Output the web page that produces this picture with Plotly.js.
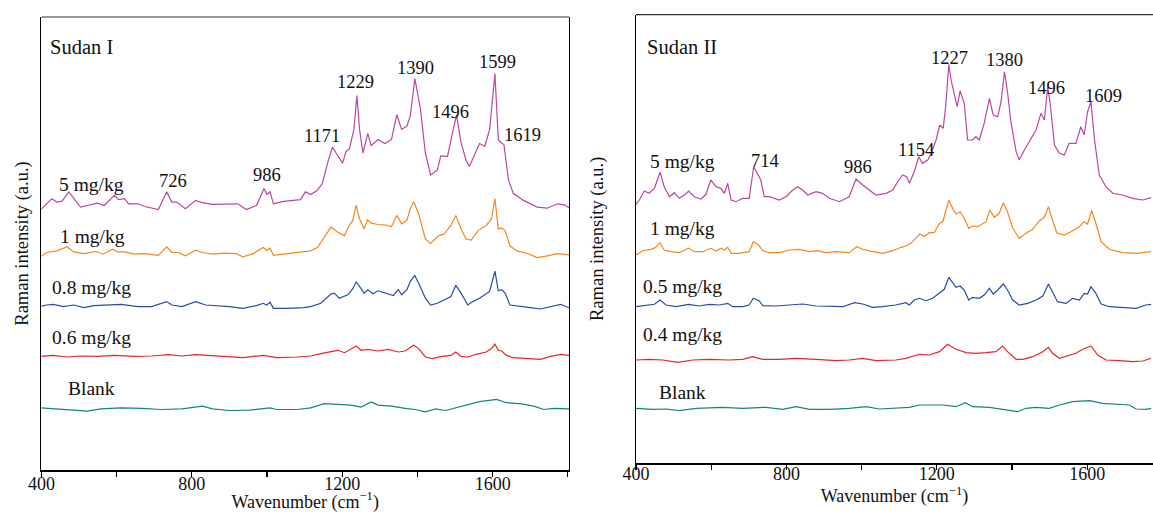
<!DOCTYPE html>
<html>
<head>
<meta charset="utf-8">
<script src="https://cdn.plot.ly/plotly-3.0.1.min.js"></script>
<style>html,body{margin:0;padding:0;background:#fff;}#chart{width:1153px;height:513px;}</style>
</head>
<body>
<div id="chart"></div>
<script>
// ---------- Sudan I (left panel) ----------
const s1_5_wn = [396,428,441,455,473,486,504,522,549,567,594,605,621,632,657,675,711,733,747,760,783,810,828,855,886,922,945,972,992,1000,1008,1017,1044,1089,1102,1116,1134,1147,1161,1174,1188,1201,1210,1219,1231,1239,1246,1255,1268,1277,1295,1313,1331,1345,1358,1372,1381,1393,1408,1421,1435,1453,1462,1480,1493,1504,1516,1529,1538,1556,1565,1579,1592,1606,1615,1621,1630,1642,1655,1682,1718,1745,1772,1790,1803];
const s1_5_int = [259.5,271.3,267.9,268.9,278.1,271.3,262.9,264.5,266.9,264.5,274.7,270.3,271.3,266.2,266.2,263.5,260.5,278.1,267.9,267.9,261.2,269.6,267.3,265.6,266.2,266.2,260.5,264.5,281.4,275.7,278.1,266.2,268.6,270.3,278.1,275.4,279.8,286.5,306.8,323.0,314.2,306.8,318.6,321.0,340.6,374.4,340.6,317.0,336.6,324.4,330.5,326.4,330.5,355.2,340.6,344.0,354.1,391.3,360.9,317.0,295.0,300.0,314.2,313.6,337.2,354.8,327.1,310.2,303.4,318.6,326.4,323.7,340.6,396.4,330.5,327.8,325.4,289.9,276.4,269.6,262.9,261.8,266.2,265.2,262.2];

const s1_1_wn = [396,414,441,468,486,513,545,563,590,603,621,648,675,711,733,747,765,783,810,828,855,886,918,936,963,990,999,1008,1017,1053,1098,1116,1134,1152,1170,1188,1206,1216,1228,1237,1246,1258,1267,1277,1295,1313,1331,1345,1358,1372,1381,1390,1403,1421,1435,1457,1471,1489,1502,1516,1529,1543,1561,1583,1597,1606,1615,1624,1633,1646,1664,1691,1718,1745,1772,1803];
const s1_1_int = [213.1,217.5,219.1,223.2,218.1,216.4,218.5,215.8,220.8,218.1,218.1,215.8,216.4,214.7,223.2,217.5,217.5,214.1,219.8,217.5,215.8,216.8,216.4,213.1,216.4,222.5,219.8,221.8,214.7,216.4,218.1,219.1,222.5,232.7,242.8,237.7,234.4,242.8,249.6,264.8,251.3,241.1,250.2,246.9,245.5,245.2,243.5,254.6,246.2,249.6,261.4,268.2,256.3,231.0,226.6,234.4,236.0,244.5,254.6,241.1,231.0,230.0,239.4,244.5,251.3,271.5,241.1,242.1,239.4,224.2,219.1,216.8,212.4,214.1,216.4,215.1];

const s1_08_wn = [396,414,432,459,486,513,540,576,612,657,693,733,747,774,810,837,864,900,936,972,990,999,1008,1017,1053,1098,1116,1143,1170,1179,1192,1215,1228,1237,1246,1258,1268,1282,1295,1313,1336,1349,1358,1372,1381,1393,1403,1421,1435,1453,1471,1489,1502,1516,1534,1547,1565,1592,1606,1615,1624,1633,1646,1673,1700,1727,1754,1781,1803];
const s1_08_int = [163.4,165.0,165.7,163.4,165.0,162.3,164.4,165.0,165.7,163.4,163.4,168.4,165.0,163.4,168.4,165.0,164.4,163.4,161.7,164.4,166.7,165.0,167.8,161.7,161.7,162.3,163.4,166.7,175.9,176.9,171.8,175.2,181.3,188.0,183.6,176.9,180.3,176.2,179.2,176.9,174.5,180.3,175.2,180.3,188.7,194.5,187.0,171.8,165.0,166.7,170.1,173.5,184.7,176.9,165.0,168.4,171.8,178.6,198.9,179.2,180.3,176.9,165.0,163.4,162.3,161.0,163.4,165.7,162.3];

const s1_06_wn = [396,432,468,504,549,594,648,693,738,774,810,864,900,936,990,1026,1080,1116,1143,1170,1188,1206,1223,1237,1250,1268,1295,1322,1349,1367,1390,1403,1421,1439,1466,1489,1502,1516,1534,1556,1583,1597,1606,1615,1624,1637,1655,1691,1727,1754,1781,1803];
const s1_06_int = [113.6,114.6,113.0,114.0,113.6,114.6,113.6,114.0,115.3,114.0,115.3,114.0,113.6,112.3,114.6,112.3,113.0,114.0,116.3,118.7,119.7,117.3,120.7,124.1,119.7,120.7,119.0,120.7,118.0,119.0,124.8,121.4,113.0,111.3,113.6,114.6,118.0,113.6,113.0,115.7,118.0,121.4,125.8,119.7,119.0,114.6,112.3,111.3,110.6,113.6,115.7,114.6];

const s1_blank_wn = [396,432,477,522,558,612,666,720,774,828,855,900,954,1008,1026,1080,1116,1152,1188,1223,1250,1277,1295,1331,1367,1394,1421,1448,1475,1502,1529,1565,1610,1637,1673,1709,1736,1763,1803];
const s1_blank_int = [62.2,61.2,60.5,58.9,61.2,62.2,61.6,60.5,61.2,63.9,61.2,59.5,59.9,62.2,60.5,60.5,62.2,66.3,65.6,64.9,62.9,68.0,64.9,63.9,61.6,60.5,58.2,61.2,59.5,62.2,64.9,68.3,70.7,67.3,66.3,63.9,60.5,61.6,61.2];

// ---------- Sudan II (right panel) ----------
const s2_5_wn = [400,409,422,435,449,464,475,489,502,515,529,540,555,573,586,599,613,626,635,644,653,666,684,701,713,724,732,741,755,781,799,817,830,843,857,879,896,914,941,967,985,1003,1021,1038,1065,1083,1096,1109,1120,1127,1140,1152,1162,1176,1185,1198,1208,1217,1224,1232,1238,1247,1254,1262,1273,1282,1295,1304,1313,1326,1340,1350,1362,1371,1380,1388,1397,1411,1419,1433,1451,1464,1477,1486,1495,1502,1513,1526,1539,1552,1570,1583,1592,1601,1610,1619,1632,1650,1668,1694,1721,1748,1770];
const s2_5_int = [258.7,263.0,272.0,269.7,274.7,290.7,276.3,266.3,270.3,264.7,268.0,272.0,266.3,264.0,268.7,283.0,276.3,274.7,269.7,279.7,263.0,261.3,264.7,264.7,296.3,288.0,283.0,266.3,266.3,263.0,266.3,273.0,276.3,273.0,268.0,271.3,269.7,264.7,261.3,266.3,284.0,278.0,273.0,268.0,269.7,273.0,281.3,288.0,286.3,279.7,291.3,306.3,299.7,303.0,309.7,323.0,338.0,334.7,358.0,398.7,383.0,368.0,356.3,372.0,359.7,323.0,323.0,326.3,323.0,339.7,364.7,348.0,346.3,361.3,391.3,371.3,341.3,311.3,303.0,313.0,324.7,333.0,349.7,343.0,376.3,358.0,318.0,309.7,308.0,319.7,319.7,336.3,328.0,351.3,361.3,324.7,288.0,276.3,269.7,268.0,264.7,263.0,265.3];

const s2_1_wn = [400,418,440,453,464,475,493,515,540,555,577,599,613,626,635,644,653,675,701,712,726,737,755,781,808,834,861,883,905,932,967,987,1003,1029,1056,1083,1105,1118,1131,1145,1155,1167,1180,1193,1207,1216,1224,1232,1242,1251,1262,1273,1285,1295,1309,1322,1331,1341,1353,1366,1377,1388,1402,1419,1437,1455,1473,1486,1497,1506,1519,1539,1557,1579,1592,1601,1612,1623,1637,1659,1694,1730,1756,1770];
const s2_1_int = [208.0,212.3,213.7,215.7,220.3,213.0,211.3,210.3,214.7,211.3,211.3,214.7,212.0,214.7,213.0,215.7,209.7,209.7,211.3,221.3,218.0,212.3,210.3,210.3,213.0,213.7,211.3,212.3,210.3,211.3,210.3,216.3,213.7,211.3,209.7,212.3,215.7,217.0,219.7,224.7,229.0,226.3,230.3,230.3,239.7,241.3,253.7,263.0,254.7,249.0,251.3,244.7,234.7,237.0,236.3,239.0,241.3,253.0,245.7,249.7,260.3,251.3,234.7,224.7,229.7,233.7,242.3,245.7,256.3,244.7,230.3,228.0,231.3,236.3,241.3,239.0,252.3,239.7,221.3,213.7,210.3,209.7,210.3,211.3];

const s2_05_wn = [400,427,449,464,480,506,540,568,595,622,644,657,684,701,712,728,737,772,808,843,879,914,950,981,1003,1029,1056,1091,1118,1127,1140,1154,1171,1189,1207,1220,1232,1242,1251,1262,1273,1285,1295,1313,1326,1340,1350,1362,1377,1388,1402,1419,1442,1464,1482,1497,1508,1521,1544,1561,1579,1592,1601,1610,1623,1637,1659,1694,1730,1756,1770];
const s2_05_int = [156.3,158.0,158.7,163.0,158.0,156.3,158.7,157.0,158.7,158.0,159.7,156.3,156.3,158.0,164.7,162.0,157.3,157.0,158.0,159.0,157.0,156.3,156.3,160.3,159.0,155.7,156.3,158.0,160.3,158.0,163.0,164.7,162.3,164.7,169.7,173.7,185.7,179.7,175.7,177.0,173.0,163.0,165.7,164.7,168.0,174.7,169.0,173.0,179.0,173.0,163.0,158.0,159.7,163.0,167.0,179.0,171.3,161.3,159.7,164.7,163.0,169.7,169.0,176.3,169.7,159.0,156.3,155.7,154.7,158.0,158.7];

const s2_04_wn = [400,435,471,511,551,595,648,684,710,737,781,826,879,932,967,1003,1038,1091,1118,1154,1180,1207,1229,1251,1278,1304,1331,1357,1375,1388,1411,1428,1455,1482,1497,1508,1526,1544,1570,1588,1610,1628,1650,1685,1721,1748,1770];
const s2_04_int = [103.0,103.7,103.0,100.7,103.0,103.7,103.0,103.7,106.3,103.7,103.7,104.7,103.7,102.3,103.0,104.7,102.3,103.0,104.7,108.7,108.0,111.3,118.7,113.7,110.3,109.7,110.3,111.3,117.0,111.3,103.7,103.7,106.3,111.3,115.7,109.7,104.7,107.0,109.7,113.7,117.0,108.0,103.0,102.3,101.3,102.0,104.7];

const s2_blank_wn = [400,444,480,515,560,630,684,746,790,826,861,914,967,1012,1047,1091,1127,1154,1180,1216,1251,1276,1295,1340,1375,1415,1437,1464,1499,1526,1561,1606,1641,1677,1712,1730,1756,1770];
const s2_blank_int = [54.7,53.7,54.0,52.3,54.7,55.7,54.7,55.7,53.7,56.3,53.7,53.7,54.7,56.3,54.0,55.3,55.7,58.0,58.0,58.0,56.3,60.3,56.3,55.7,53.7,51.3,54.7,55.7,54.7,58.0,61.3,62.3,59.7,59.0,58.0,54.0,53.7,54.7];

// ---------- labels ----------
const panelNames = ['Sudan I', 'Sudan II'];
const s1SeriesNames = ['5 mg/kg', '1 mg/kg', '0.8 mg/kg', '0.6 mg/kg', 'Blank'];
const s2SeriesNames = ['5 mg/kg', '1 mg/kg', '0.5 mg/kg', '0.4 mg/kg', 'Blank'];
const s1PeakLabels = ['726', '986', '1171', '1229', '1390', '1496', '1599', '1619'];
const s2PeakLabels = ['714', '986', '1154', '1227', '1380', '1496', '1609'];

const colors = ['#b8489f', '#f7861f', '#2b4aa8', '#ee2228', '#11857e'];
const FONT = '"Liberation Serif", "DejaVu Serif", serif';

const s1Data = [[s1_5_wn, s1_5_int], [s1_1_wn, s1_1_int], [s1_08_wn, s1_08_int], [s1_06_wn, s1_06_int], [s1_blank_wn, s1_blank_int]];
const s2Data = [[s2_5_wn, s2_5_int], [s2_1_wn, s2_1_int], [s2_05_wn, s2_05_int], [s2_04_wn, s2_04_int], [s2_blank_wn, s2_blank_int]];

const traces = [];
s1Data.forEach((d, i) => traces.push({x: d[0], y: d[1], type: 'scatter', mode: 'lines', name: 'Sudan I ' + s1SeriesNames[i], line: {color: colors[i], width: 1.2}, xaxis: 'x', yaxis: 'y', hoverinfo: 'x+name'}));
s2Data.forEach((d, i) => traces.push({x: d[0], y: d[1], type: 'scatter', mode: 'lines', name: 'Sudan II ' + s2SeriesNames[i], line: {color: colors[i], width: 1.2}, xaxis: 'x2', yaxis: 'y2', hoverinfo: 'x+name'}));

function ann(text, x, y, xr, yr, size, xanchor) {
  return {text: text, x: x, y: y, xref: xr, yref: yr, showarrow: false, xanchor: xanchor || 'center', yanchor: 'middle', font: {family: FONT, size: size, color: '#111'}};
}
const annotations = [
  ann(panelNames[0], 418, 423, 'x', 'y', 20.5, 'left'),
  ann(s1SeriesNames[0], 532, 285, 'x', 'y', 19.5),
  ann(s1SeriesNames[1], 535, 233.5, 'x', 'y', 19.5),
  ann(s1SeriesNames[2], 534, 183, 'x', 'y', 19.5),
  ann(s1SeriesNames[3], 534, 132.5, 'x', 'y', 19.5),
  ann(s1SeriesNames[4], 533, 82, 'x', 'y', 19.5),
  ann(s1PeakLabels[0], 749, 289, 'x', 'y', 18.5),
  ann(s1PeakLabels[1], 1000, 295, 'x', 'y', 18.5),
  ann(s1PeakLabels[2], 1146, 334, 'x', 'y', 18.5),
  ann(s1PeakLabels[3], 1236, 388, 'x', 'y', 18.5),
  ann(s1PeakLabels[4], 1396, 402, 'x', 'y', 18.5),
  ann(s1PeakLabels[5], 1487, 358, 'x', 'y', 18.5),
  ann(s1PeakLabels[6], 1612, 408, 'x', 'y', 18.5),
  ann(s1PeakLabels[7], 1678, 335, 'x', 'y', 18.5),
  ann(panelNames[1], 424, 416.4, 'x2', 'y2', 20.5, 'left'),
  ann(s2SeriesNames[0], 525, 301.5, 'x2', 'y2', 19.5),
  ann(s2SeriesNames[1], 525, 235, 'x2', 'y2', 19.5),
  ann(s2SeriesNames[2], 524, 176.3, 'x2', 'y2', 19.5),
  ann(s2SeriesNames[3], 525, 128, 'x2', 'y2', 19.5),
  ann(s2SeriesNames[4], 525, 70.5, 'x2', 'y2', 19.5),
  ann(s2PeakLabels[0], 743, 302, 'x2', 'y2', 18.5),
  ann(s2PeakLabels[1], 990, 296, 'x2', 'y2', 18.5),
  ann(s2PeakLabels[2], 1145, 313, 'x2', 'y2', 18.5),
  ann(s2PeakLabels[3], 1233, 405, 'x2', 'y2', 18.5),
  ann(s2PeakLabels[4], 1379, 403, 'x2', 'y2', 18.5),
  ann(s2PeakLabels[5], 1493, 375, 'x2', 'y2', 18.5),
  ann(s2PeakLabels[6], 1644, 367, 'x2', 'y2', 18.5)
];

function xAxis(domain, range, anchor, labelShift, titleStandoff) {
  return {domain: domain, range: range, anchor: anchor, tickmode: 'linear', tick0: 400, dtick: 400,
    ticks: 'outside', ticklen: 5, tickwidth: 1.2, tickcolor: '#000', ticklabelstandoff: labelShift,
    minor: {tickmode: 'linear', tick0: 400, dtick: 200, ticks: 'outside', ticklen: 5, tickwidth: 1.2, tickcolor: '#000', showgrid: false},
    showline: true, linewidth: 2, linecolor: '#000',
    showgrid: false, zeroline: false, tickfont: {family: FONT, size: 18, color: '#111'}, automargin: false,
    title: {text: 'Wavenumber (cm<sup>−1</sup>)', font: {family: FONT, size: 18, color: '#111'}, standoff: titleStandoff}};
}
function yAxis(domain, range, anchor, mirror, standoff) {
  return {domain: domain, range: range, anchor: anchor, showticklabels: false, ticks: '', showline: true, linewidth: 1.2,
    linecolor: '#000', mirror: mirror, showgrid: false, zeroline: false, automargin: false,
    title: {text: 'Raman intensity (a.u.)', font: {family: FONT, size: 18.5, color: '#111'}, standoff: standoff}};
}

const layout = {
  width: 1153, height: 513, margin: {l: 0, r: 0, t: 0, b: 0},
  paper_bgcolor: '#fff', plot_bgcolor: '#fff', showlegend: false,
  font: {family: FONT, size: 18, color: '#111'},
  xaxis: xAxis([0.0359, 0.4935], [400, 1803], 'y', -9, 2),
  yaxis: yAxis([0.0838, 0.9669], [0, 453], 'x', true, 6),
  xaxis2: xAxis([0.5516, 1.0], [400, 1775], 'y2', -12, 0),
  yaxis2: yAxis([0.0975, 0.9715], [0, 448.4], 'x2', false, 26),
  annotations: annotations,
  shapes: [
    {type: 'line', xref: 'x domain', yref: 'y domain', x0: 0, x1: 1, y0: 1, y1: 1, line: {color: '#333', width: 1.2}},
    {type: 'line', xref: 'x2 domain', yref: 'y2 domain', x0: 0, x1: 1, y0: 1, y1: 1, line: {color: '#333', width: 1.2}}
  ]
};

Plotly.newPlot('chart', traces, layout, {staticPlot: true, displayModeBar: false});
</script>
</body>
</html>
